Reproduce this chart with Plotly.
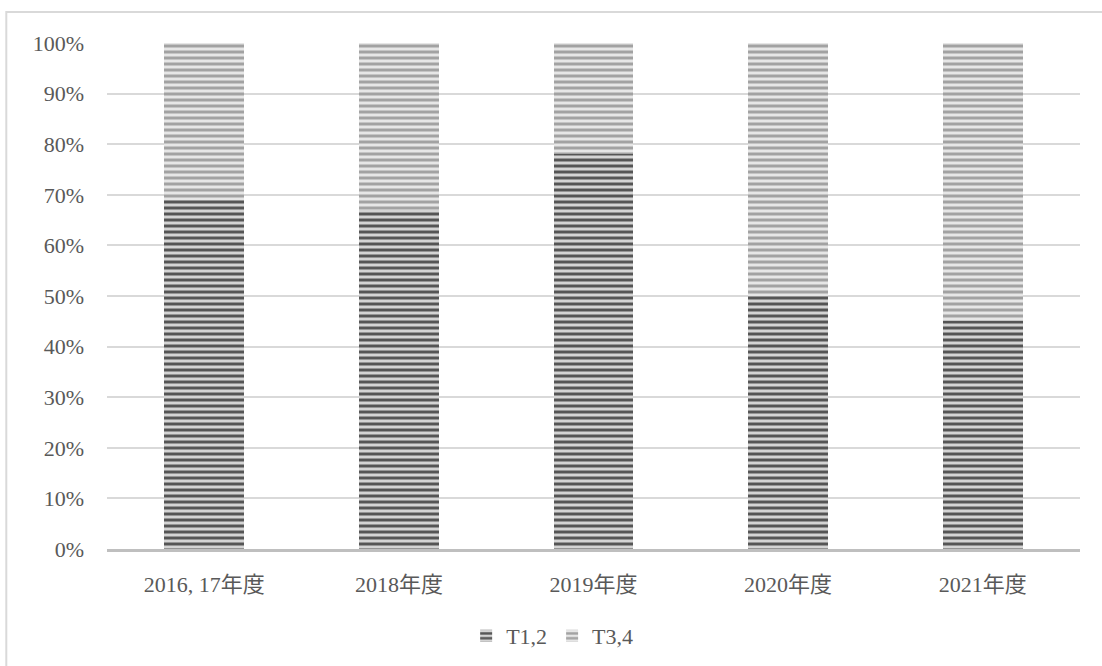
import plotly.graph_objects as go

# Share of cases by stage group per fiscal year (percent)
categories = ["2016, 17年度", "2018年度", "2019年度", "2020年度", "2021年度"]
t12 = [69, 67, 78, 50, 45]
t34 = [100 - v for v in t12]

font_family = "Liberation Serif, Noto Sans CJK JP, serif"
text_color = "#595959"

fig = go.Figure()
fig.add_trace(go.Bar(
    name="T1,2", x=categories, y=t12,
    marker=dict(
        color="#d6d6d6",
        line=dict(width=0),
        pattern=dict(shape="-", fgcolor="#555555", bgcolor="#d4d4d4",
                     size=6, solidity=0.5, fillmode="replace"),
    ),
))
fig.add_trace(go.Bar(
    name="T3,4", x=categories, y=t34,
    marker=dict(
        color="#e6e6e6",
        line=dict(width=0),
        pattern=dict(shape="-", fgcolor="#a2a2a2", bgcolor="#e6e6e6",
                     size=6, solidity=0.5, fillmode="replace"),
    ),
))

fig.update_layout(
    width=1102, height=666,
    barmode="stack",
    bargap=0.59,
    paper_bgcolor="white",
    plot_bgcolor="white",
    margin=dict(l=107, r=22, t=43, b=117, autoexpand=False),
    font=dict(family=font_family, size=22, color=text_color),
    showlegend=True,
    legend=dict(
        orientation="h", x=0.4575, xanchor="center", y=-0.172, yanchor="middle",
        font=dict(size=22, color=text_color), itemwidth=30, traceorder="normal",
    ),
    shapes=[dict(
        type="rect", xref="paper", yref="paper",
        x0=-0.1035, x1=1.05, y0=-0.28, y1=1.0613,
        line=dict(color="#d9d9d9", width=2), fillcolor="rgba(0,0,0,0)",
        layer="below",
    )],
)
fig.update_yaxes(
    range=[0, 100], dtick=10, ticksuffix="%",
    showgrid=True, gridcolor="#d9d9d9", gridwidth=1.5,
    zeroline=False, showline=False,
    ticklabelstandoff=22,
)
fig.update_xaxes(
    showline=True, linecolor="#bfbfbf", linewidth=3,
    showgrid=False, ticklabelstandoff=14,
)

fig.write_html("out.html")
